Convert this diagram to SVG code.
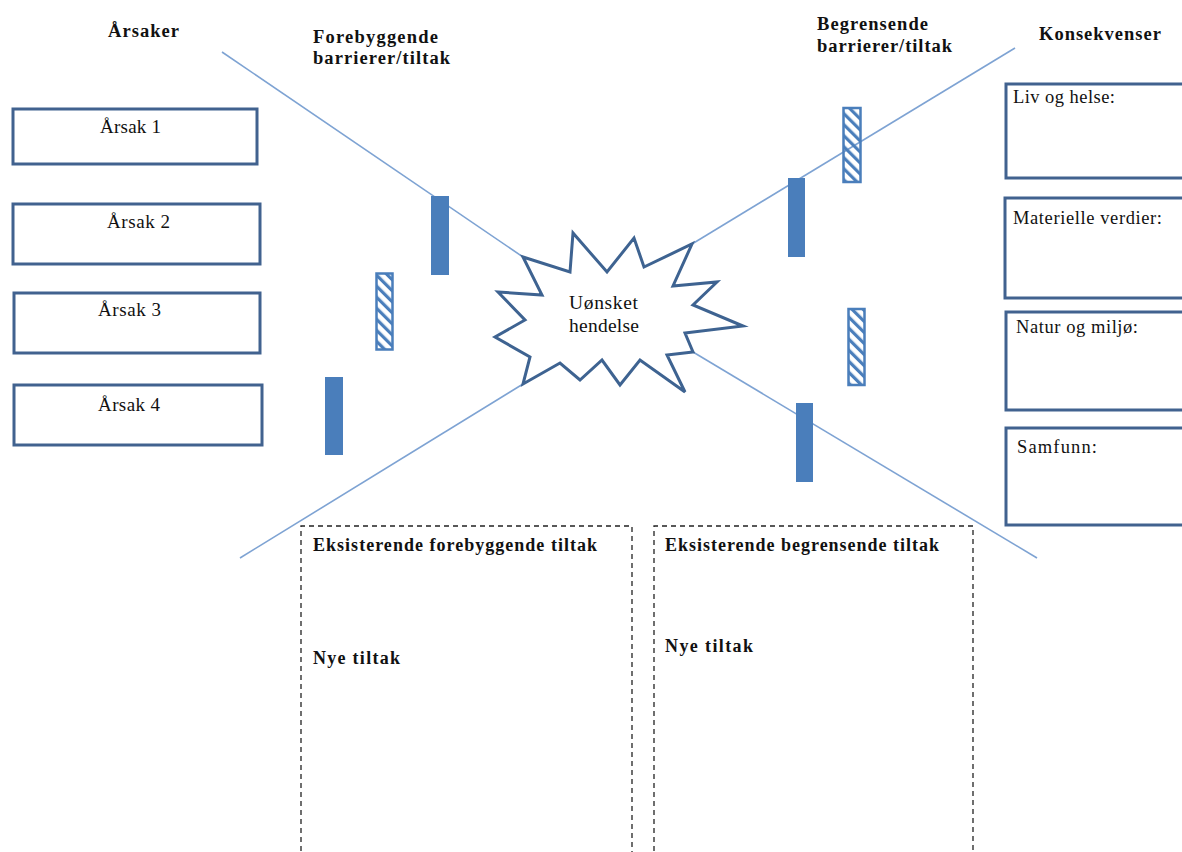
<svg xmlns="http://www.w3.org/2000/svg" width="1182" height="852" viewBox="0 0 1182 852">
  <style>
    .txt { font-family: "Liberation Serif", "Times New Roman", serif; fill: #111; }
    .head { font-family: "Liberation Serif", "Times New Roman", serif; font-weight: bold; font-size: 18.5px; fill: #111; }
    .box { fill: #fff; stroke: #41628F; stroke-width: 3; }
    .dash { fill: none; stroke: #222; stroke-width: 1.3; stroke-dasharray: 5 4; }
    .link { stroke: #7EA3D3; stroke-width: 1.6; fill: none; }
    .bar { fill: #4A7EBB; }
    .hatch { fill: url(#stripes); stroke: #4A7EBB; stroke-width: 2.5; }
  </style>
  <defs>
    <pattern id="stripes" patternUnits="userSpaceOnUse" width="7.8" height="7.8" patternTransform="rotate(-45)">
      <rect x="0" y="0" width="3.2" height="7.8" fill="#4A7EBB"/>
    </pattern>
  </defs>
  <rect width="1182" height="852" fill="#fff"/>

  <!-- headings -->
  <g id="headings">
    <text class="head" x="108" y="37" textLength="71" lengthAdjust="spacing">Årsaker</text>
    <text class="head" x="313" y="43" textLength="125" lengthAdjust="spacing">Forebyggende</text>
    <text class="head" x="313" y="64" textLength="137" lengthAdjust="spacing">barrierer/tiltak</text>
    <text class="head" x="817" y="30" textLength="111" lengthAdjust="spacing">Begrensende</text>
    <text class="head" x="817" y="52" textLength="135" lengthAdjust="spacing">barrierer/tiltak</text>
    <text class="head" x="1039" y="40" textLength="122" lengthAdjust="spacing">Konsekvenser</text>
  </g>

  <!-- connectors -->
  <g id="connectors">
    <line class="link" x1="222" y1="52" x2="523" y2="257"/>
    <line class="link" x1="1015" y1="48" x2="692" y2="244"/>
    <line class="link" x1="240" y1="558" x2="523" y2="384"/>
    <line class="link" x1="693" y1="352" x2="1037" y2="558"/>
  </g>

  <!-- barriers -->
  <g id="barriers">
    <rect class="bar" x="431" y="196" width="18" height="79"/>
    <rect class="bar" x="325" y="377" width="18" height="78"/>
    <rect class="bar" x="788" y="178" width="17" height="79"/>
    <rect class="bar" x="796" y="403" width="17" height="79"/>
    <rect class="hatch" x="376.5" y="273.5" width="16" height="76"/>
    <rect class="hatch" x="843.5" y="108" width="17" height="74"/>
    <rect class="hatch" x="848.5" y="309" width="16" height="76"/>
  </g>

  <!-- central event -->
  <g id="event">
    <polygon fill="#fff" stroke="#3E6391" stroke-width="3" stroke-linejoin="miter"
      points="523,257 570,272 573,233 607,272 634,238 644,267 692,244 673,286 717,282 693,305 743,326 685,333 693,352 667,355 685,392 640,360 620,385 602,360 580,380 560,363 523,384 530,357 495,337 525,320 498,292 542,295"/>
    <text class="txt" x="569" y="309" font-size="19.5" textLength="69" lengthAdjust="spacing">Uønsket</text>
    <text class="txt" x="569" y="332" font-size="19.5" textLength="70" lengthAdjust="spacing">hendelse</text>
  </g>

  <!-- causes -->
  <g id="cause1">
    <rect class="box" x="13" y="109" width="244" height="55"/>
    <text class="txt" x="100" y="133" font-size="19" textLength="61" lengthAdjust="spacing">Årsak 1</text>
  </g>
  <g id="cause2">
    <rect class="box" x="13" y="204" width="247" height="60"/>
    <text class="txt" x="107" y="228" font-size="19" textLength="63" lengthAdjust="spacing">Årsak 2</text>
  </g>
  <g id="cause3">
    <rect class="box" x="14" y="293" width="246" height="60"/>
    <text class="txt" x="98" y="316" font-size="19" textLength="63" lengthAdjust="spacing">Årsak 3</text>
  </g>
  <g id="cause4">
    <rect class="box" x="14" y="385" width="248" height="60"/>
    <text class="txt" x="98" y="411" font-size="19" textLength="62" lengthAdjust="spacing">Årsak 4</text>
  </g>

  <!-- consequences -->
  <g id="life">
    <rect class="box" x="1006" y="84" width="200" height="94"/>
    <text class="txt" x="1013" y="103" font-size="18.5" textLength="102" lengthAdjust="spacing">Liv og helse:</text>
  </g>
  <g id="assets">
    <rect class="box" x="1005" y="198" width="200" height="100"/>
    <text class="txt" x="1013" y="224" font-size="18.5" textLength="149" lengthAdjust="spacing">Materielle verdier:</text>
  </g>
  <g id="nature">
    <rect class="box" x="1006" y="312" width="200" height="98"/>
    <text class="txt" x="1016" y="333" font-size="18.5" textLength="122" lengthAdjust="spacing">Natur og miljø:</text>
  </g>
  <g id="society">
    <rect class="box" x="1006" y="428" width="200" height="97"/>
    <text class="txt" x="1017" y="453" font-size="18.5" textLength="80" lengthAdjust="spacing">Samfunn:</text>
  </g>

  <!-- measure panels -->
  <g id="preventive">
    <path class="dash" d="M301,860 V526 H632 V860"/>
    <text class="head" x="313" y="551" style="font-size:18px" textLength="284" lengthAdjust="spacing">Eksisterende forebyggende tiltak</text>
    <text class="head" x="313" y="664" style="font-size:18px" textLength="87" lengthAdjust="spacing">Nye tiltak</text>
  </g>
  <g id="mitigating">
    <path class="dash" d="M654,860 V526 H973 V860"/>
    <text class="head" x="665" y="551" style="font-size:18px" textLength="274" lengthAdjust="spacing">Eksisterende begrensende tiltak</text>
    <text class="head" x="665" y="652" style="font-size:18px" textLength="88" lengthAdjust="spacing">Nye tiltak</text>
  </g>
</svg>
